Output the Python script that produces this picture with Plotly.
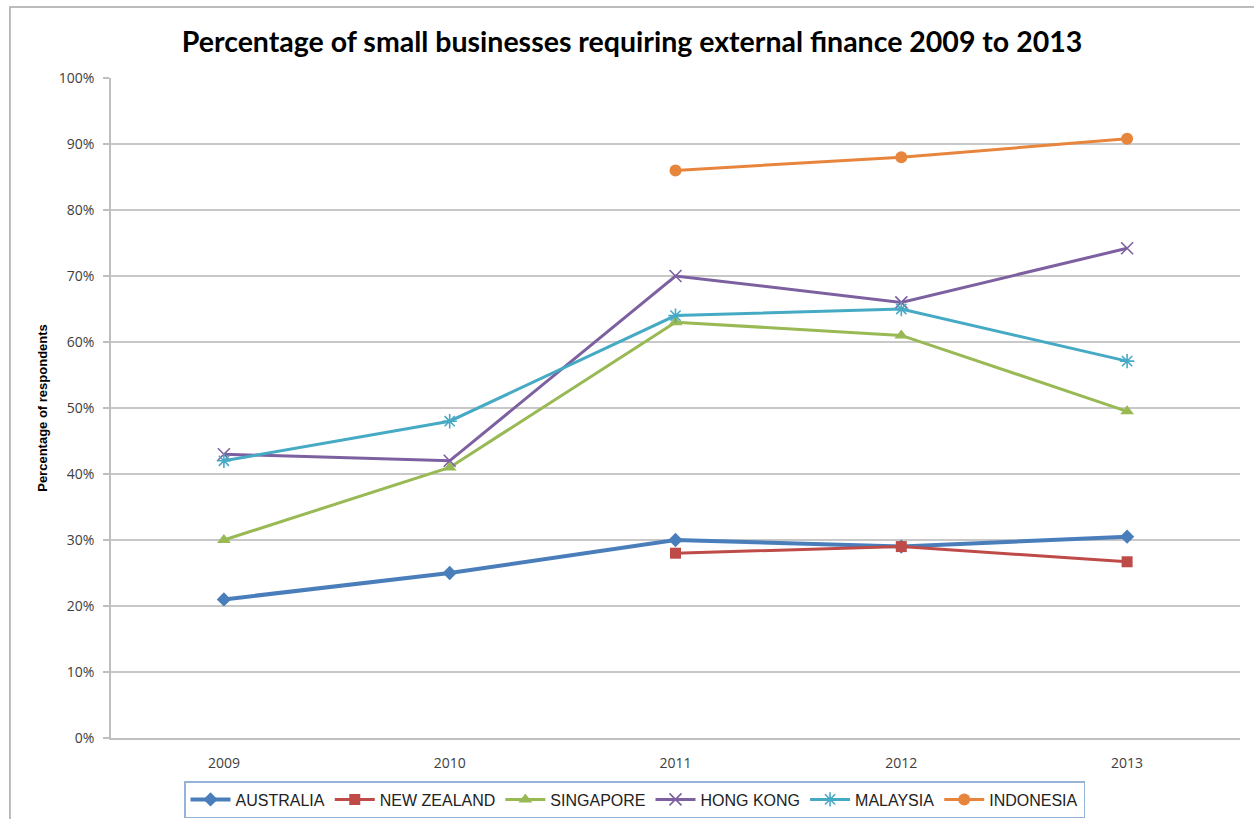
import plotly.graph_objects as go

years = ["2009", "2010", "2011", "2012", "2013"]

australia = [21, 25, 30, 29, 30.5]
new_zealand = [None, None, 28, 29, 26.7]
singapore = [30, 41, 63, 61, 49.5]
hong_kong = [43, 42, 70, 66, 74.2]
malaysia = [42, 48, 64, 65, 57.1]
indonesia = [None, None, 86, 88, 90.8]

y_ticks = [0, 10, 20, 30, 40, 50, 60, 70, 80, 90, 100]
y_tick_labels = [f"{v}%" for v in y_ticks]

series = [
    ("AUSTRALIA", australia, "#4A7EBB", "diamond", 11, 4),
    ("NEW ZEALAND", new_zealand, "#BE4B48", "square", 11, 3),
    ("SINGAPORE", singapore, "#98B954", "triangle-up", 12, 3),
    ("HONG KONG", hong_kong, "#7D60A0", "x-thin-open", 12, 3),
    ("MALAYSIA", malaysia, "#46AAC5", "asterisk-open", 12, 3),
    ("INDONESIA", indonesia, "#E8853C", "circle", 12, 3),
]

fig = go.Figure()
for name, vals, color, symbol, msize, lw in series:
    open_marker = symbol.endswith("-open")
    fig.add_trace(go.Scatter(
        x=years, y=vals, name=name, mode="lines+markers",
        line=dict(color=color, width=lw),
        marker=dict(symbol=symbol, size=msize, color=color,
                    line=dict(color=color, width=1.6 if open_marker else 0)),
        connectgaps=False,
    ))

tick_font = dict(family="Open Sans, sans-serif", size=14, color="#404040")

fig.update_layout(
    width=1254, height=819,
    margin=dict(l=111, r=14, t=78, b=81),
    paper_bgcolor="white", plot_bgcolor="white",
    title=dict(
        text="<b>Percentage of small businesses requiring external finance 2009 to 2013</b>",
        x=0.504, xanchor="center", y=0.949, yanchor="middle",
        font=dict(family="Lato, Open Sans, sans-serif", size=28.5, color="#000000"),
    ),
    xaxis=dict(
        type="category", range=[-0.5, 4.5],
        showgrid=False, showline=True, linecolor="#BFBFBF", linewidth=1.5,
        ticks="", tickfont=tick_font, ticklabelstandoff=11,
        fixedrange=True, automargin=False,
    ),
    yaxis=dict(
        range=[0, 100], tickvals=y_ticks, ticktext=y_tick_labels,
        showgrid=True, gridcolor="#C8C8C8", gridwidth=1.5,
        showline=True, linecolor="#BFBFBF", linewidth=1.5,
        ticks="outside", ticklen=6, tickcolor="#BFBFBF", tickwidth=1.5,
        tickfont=tick_font, ticklabelstandoff=6,
        title=dict(text="<b>Percentage of respondents</b>", standoff=8,
                   font=dict(family="Liberation Sans Narrow, Liberation Sans, sans-serif",
                             size=13, color="#000000")),
        zeroline=False, fixedrange=True, automargin=False,
    ),
    legend=dict(
        orientation="h", xref="container", yref="container",
        x=0.506, xanchor="center", y=1 - 781 / 819, yanchor="top",
        bordercolor="#95B3D7", borderwidth=1.5, bgcolor="white",
        font=dict(family="Liberation Sans Narrow, Liberation Sans, sans-serif",
                  size=16, color="#222222"),
        itemwidth=40, tracegroupgap=0,
    ),
    showlegend=True,
    shapes=[dict(
        type="rect", xref="paper", yref="paper",
        x0=-0.0895, x1=1.2, y0=-0.3, y1=1.1076,
        line=dict(color="#A6A6A6", width=1.5), fillcolor="rgba(0,0,0,0)",
        layer="below",
    )],
)

fig.write_html("out.html")
